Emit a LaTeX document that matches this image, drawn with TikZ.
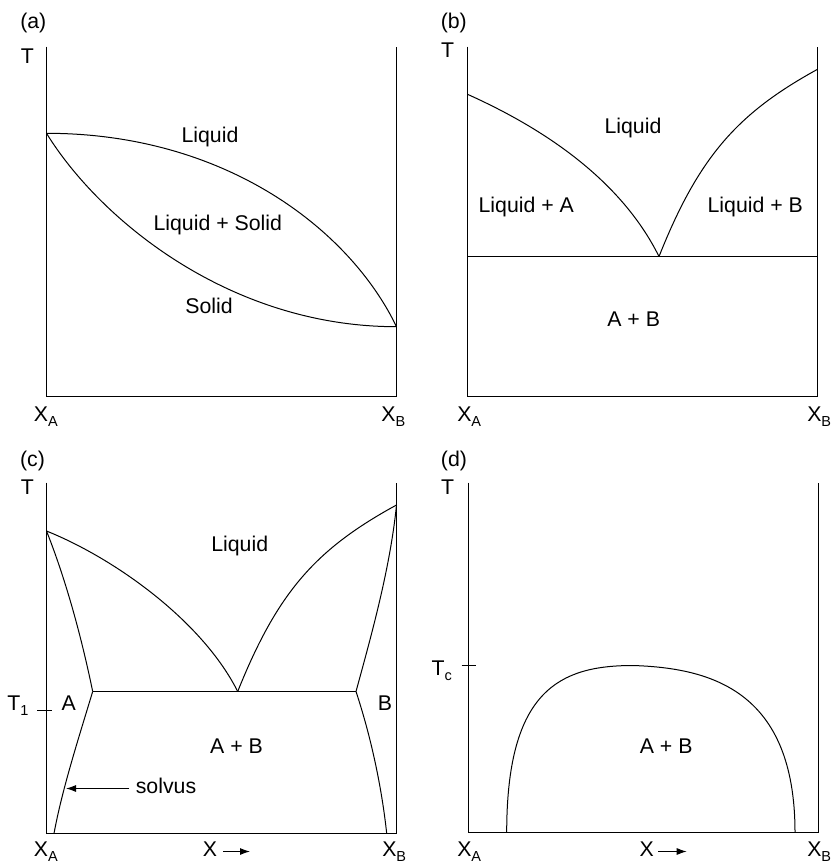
\documentclass[tikz,border=0pt]{standalone}
\usepackage{fontspec}
\setmainfont{Liberation Sans}
\usetikzlibrary{arrows.meta}
\newcommand{\lblfont}{\fontsize{21.3}{24}\selectfont}
\newcommand{\lowsub}[1]{\raisebox{-5pt}{\fontsize{14.5}{14}\selectfont #1}}
\begin{document}
\begin{tikzpicture}[x=1pt,y=-1pt,
  curve/.style={line width=1pt},
  axis/.style={line width=1pt},
  lbl/.style={font=\lblfont, inner sep=0pt, anchor=base},
  tickmark/.style={line width=0.8pt},
  arr/.style={-{Latex[length=10pt,width=7pt]}, line width=1pt}]
\useasboundingbox (0,0) rectangle (831,864);

% ---------- panel (a) ----------
\coordinate (a-tl) at (46.5,46.7);
\coordinate (a-bl) at (46.5,396.5);
\coordinate (a-br) at (396.5,396.5);
\coordinate (a-tr) at (396.5,46.7);
\draw[axis] (a-tl) -- (a-bl) -- (a-br) -- (a-tr);
\coordinate (a-p) at (46.5,133.3);
\coordinate (a-q) at (396.5,326.7);
\draw[curve] (a-p) .. controls (226,133.3) and (350,230) .. (a-q);
\draw[curve] (a-p) .. controls (100,220) and (230,326.7) .. (a-q);
\node[lbl] (a-lab) at (33.3,28.3) {(a)};
\node[lbl] (a-T) at (27.5,63.3) {T};
\node[lbl] (a-liq) at (210,142.7) {Liquid};
\node[lbl] (a-ls) at (217.8,230) {Liquid + Solid};
\node[lbl] (a-sol) at (209,313.3) {Solid};
\node[lbl] (a-xa) at (45.8,421.7) {X\lowsub{A}};
\node[lbl] (a-xb) at (393.3,421.7) {X\lowsub{B}};

% ---------- panel (b) ----------
\coordinate (b-tl) at (467.5,46.7);
\coordinate (b-bl) at (467.5,396.5);
\coordinate (b-br) at (817.5,396.5);
\coordinate (b-tr) at (817.5,46.7);
\draw[axis] (b-tl) -- (b-bl) -- (b-br) -- (b-tr);
\coordinate (b-el) at (467.5,256.5);
\coordinate (b-er) at (817.5,256.5);
\coordinate (b-e) at (659,256.5);
\coordinate (b-ma) at (467.5,94.3);
\coordinate (b-mb) at (817.5,69.3);
\draw[curve] (b-el) -- (b-er);
\draw[curve] (b-ma) .. controls (537,125.5) and (619,176) .. (b-e);
\draw[curve] (b-e) .. controls (699,156) and (738,113) .. (b-mb);
\node[lbl] (b-lab) at (453.8,28.3) {(b)};
\node[lbl] (b-T) at (447.5,57.3) {T};
\node[lbl] (b-liq) at (633,133.3) {Liquid};
\node[lbl] (b-la) at (526.3,212.3) {Liquid + A};
\node[lbl] (b-lb) at (755.3,212.3) {Liquid + B};
\node[lbl] (b-ab) at (633.7,326.7) {A + B};
\node[lbl] (b-xa) at (469.2,421.7) {X\lowsub{A}};
\node[lbl] (b-xb) at (819.2,421.7) {X\lowsub{B}};

% ---------- panel (c) ----------
\coordinate (c-tl) at (46.5,482.7);
\coordinate (c-bl) at (46.5,833.5);
\coordinate (c-br) at (396.5,833.5);
\coordinate (c-tr) at (396.5,482.7);
\draw[axis] (c-tl) -- (c-bl) -- (c-br) -- (c-tr);
\coordinate (c-ma) at (46.5,531);
\coordinate (c-mb) at (396.5,505);
\coordinate (c-e) at (237.7,691.5);
\coordinate (c-sa) at (92.7,691.5);
\coordinate (c-sb) at (356,691.5);
\coordinate (c-va) at (54,833.5);
\coordinate (c-vb) at (386.7,833.5);
\draw[curve] (c-ma) .. controls (116,559) and (202.7,621.7) .. (c-e);
\draw[curve] (c-e) .. controls (277.7,591.7) and (316,549) .. (c-mb);
\draw[curve] (c-sa) -- (c-sb);
\draw[curve] (c-ma) .. controls (64,575) and (80,630) .. (c-sa);
\draw[curve] (c-sa) .. controls (78,740) and (62,790) .. (c-va);
\draw[curve] (c-mb) .. controls (390,570) and (370,640) .. (c-sb);
\draw[curve] (c-sb) .. controls (372,740) and (382,790) .. (c-vb);
\coordinate (c-t1a) at (37.3,710.5);
\coordinate (c-t1b) at (51.7,710.5);
\draw[tickmark] (c-t1a) -- (c-t1b);
\coordinate (c-arr0) at (129.3,788.5);
\coordinate (c-arr1) at (66,788.5);
\draw[arr] (c-arr0) -- (c-arr1);
\coordinate (c-x0) at (223.3,851.5);
\coordinate (c-x1) at (250,851.5);
\draw[arr] (c-x0) -- (c-x1);
\node[lbl] (c-lab) at (32.5,466.7) {(c)};
\node[lbl] (c-T) at (27.5,494) {T};
\node[lbl] (c-liq) at (239.7,551.7) {Liquid};
\node[lbl] (c-t1) at (17.8,710.7) {T\lowsub{1}};
\node[lbl] (c-A) at (68.8,710.7) {A};
\node[lbl] (c-B) at (385,710.7) {B};
\node[lbl] (c-ab) at (236.5,753.3) {A + B};
\node[lbl] (c-solv) at (166,793.3) {solvus};
\node[lbl] (c-xa) at (45.8,856.7) {X\lowsub{A}};
\node[lbl] (c-x) at (210,856.7) {X};
\node[lbl] (c-xb) at (394.2,856.7) {X\lowsub{B}};

% ---------- panel (d) ----------
\coordinate (d-tl) at (468.5,482.7);
\coordinate (d-bl) at (468.5,832.5);
\coordinate (d-br) at (818.5,832.5);
\coordinate (d-tr) at (818.5,482.7);
\draw[axis] (d-tl) -- (d-bl) -- (d-br) -- (d-tr);
\coordinate (d-f0) at (506.7,832.5);
\coordinate (d-top) at (633,665.5);
\coordinate (d-f1) at (795,832.5);
\draw[curve] (d-f0) .. controls (506.7,690) and (560,665.5) .. (d-top)
  .. controls (710,668) and (795,690) .. (d-f1);
\coordinate (d-tca) at (461.7,665.5);
\coordinate (d-tcb) at (475.7,665.5);
\draw[tickmark] (d-tca) -- (d-tcb);
\coordinate (d-x0) at (658.3,851.5);
\coordinate (d-x1) at (686.7,851.5);
\draw[arr] (d-x0) -- (d-x1);
\node[lbl] (d-lab) at (454,466.7) {(d)};
\node[lbl] (d-T) at (447.5,494) {T};
\node[lbl] (d-tc) at (441.7,675) {T\lowsub{c}};
\node[lbl] (d-ab) at (666.2,753.3) {A + B};
\node[lbl] (d-xa) at (469.2,856.7) {X\lowsub{A}};
\node[lbl] (d-x) at (646.7,856.7) {X};
\node[lbl] (d-xb) at (819.2,856.7) {X\lowsub{B}};
\end{tikzpicture}
\end{document}
